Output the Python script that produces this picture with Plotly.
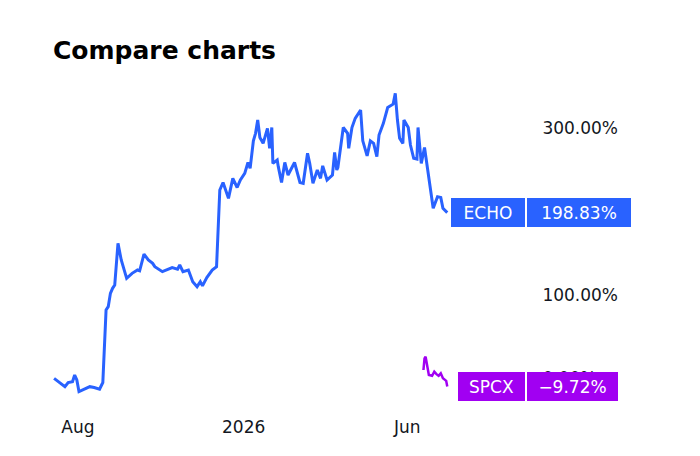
import plotly.graph_objects as go

# percent change vs. start of the period
echo_dates = [
	"2025-07-10", "2025-07-15", "2025-07-20", "2025-07-23", "2025-07-27", "2025-07-29", "2025-07-31", "2025-08-02",
	"2025-08-05", "2025-08-12", "2025-08-16", "2025-08-21", "2025-08-24", "2025-08-27", "2025-08-29", "2025-08-31",
	"2025-09-02", "2025-09-04", "2025-09-07", "2025-09-10", "2025-09-15", "2025-09-20", "2025-09-25", "2025-09-27",
	"2025-10-01", "2025-10-05", "2025-10-09", "2025-10-11", "2025-10-18", "2025-10-22", "2025-10-27", "2025-11-01",
	"2025-11-03", "2025-11-06", "2025-11-11", "2025-11-15", "2025-11-19", "2025-11-22", "2025-11-24", "2025-11-28",
	"2025-12-03", "2025-12-07", "2025-12-10", "2025-12-13", "2025-12-18", "2025-12-22", "2025-12-26", "2025-12-29",
	"2026-01-02", "2026-01-05", "2026-01-07", "2026-01-10", "2026-01-12", "2026-01-14", "2026-01-16", "2026-01-19",
	"2026-01-23", "2026-01-25", "2026-01-27", "2026-01-28", "2026-02-01", "2026-02-02", "2026-02-05", "2026-02-08",
	"2026-02-11", "2026-02-17", "2026-02-22", "2026-02-25", "2026-03-01", "2026-03-03", "2026-03-06", "2026-03-10",
	"2026-03-13", "2026-03-15", "2026-03-19", "2026-03-24", "2026-03-26", "2026-03-28", "2026-03-29", "2026-04-03",
	"2026-04-07", "2026-04-08", "2026-04-11", "2026-04-14", "2026-04-19", "2026-04-21", "2026-04-25", "2026-04-28",
	"2026-05-01", "2026-05-04", "2026-05-06", "2026-05-10", "2026-05-14", "2026-05-19", "2026-05-21", "2026-05-23",
	"2026-05-25", "2026-05-28", "2026-05-29", "2026-06-02", "2026-06-04", "2026-06-07", "2026-06-10", "2026-06-11",
	"2026-06-14", "2026-06-17", "2026-06-20", "2026-06-22", "2026-06-25", "2026-06-29", "2026-07-02", "2026-07-04",
	"2026-07-08",
]
echo_pct = [
	0, -5, -10, -5, -4, 4, -2, -16, -14, -10,
	-11, -13, -5, 82, 86, 102, 108, 112, 162, 142,
	120, 126, 130, 129, 149, 142, 138, 134, 128, 130,
	133, 131, 136, 128, 130, 116, 110, 116, 111, 121,
	130, 134, 226, 235, 216, 240, 229, 238, 246, 259,
	252, 285, 294, 310, 289, 282, 300, 276, 301, 258,
	262, 254, 235, 259, 244, 259, 235, 234, 270, 258,
	234, 250, 240, 255, 238, 244, 271, 250, 253, 301,
	294, 276, 301, 312, 322, 285, 267, 285, 282, 266,
	292, 306, 325, 329, 342, 310, 288, 282, 310, 301,
	280, 264, 263, 301, 258, 277, 250, 229, 204, 218,
	217, 204, 198.83,
]

spcx_dates = [
	"2026-06-16", "2026-06-17", "2026-06-18", "2026-06-19", "2026-06-21", "2026-06-24", "2026-06-26",
	"2026-06-28", "2026-06-30", "2026-07-02", "2026-07-04", "2026-07-07", "2026-07-08",
]
spcx_pct = [10, 24, 26, 18, 4, 3, 8, 5, 3, 6, 0, -3, -9.72]

tick_dates = ["2025-08-01", "2026-01-01", "2026-06-01"]
tick_text = ["Aug", "2026", "Jun"]
y_ticks = [0, 100, 200, 300]

BLUE = "#2962FF"
PURPLE = "#A100F2"
FONT = "DejaVu Sans"

fig = go.Figure()
fig.add_trace(go.Scatter(x=echo_dates, y=echo_pct, mode="lines",
                         line=dict(color=BLUE, width=3), name="ECHO"))
fig.add_trace(go.Scatter(x=spcx_dates, y=spcx_pct, mode="lines",
                         line=dict(color=PURPLE, width=2.5), name="SPCX"))

# last-value badges on the price scale
def badge(name, date, val, color, w_name, w_val):
	common = dict(xref="x", yref="y", x=date, y=val, yanchor="middle", showarrow=False,
	              bgcolor=color, borderpad=0, borderwidth=0, height=29,
	              font=dict(family=FONT, size=17, color="white"))
	fig.add_annotation(text=name, xanchor="right", xshift=78, width=w_name, **common)
	txt = f"{val:.2f}%".replace("-", "\u2212")
	fig.add_annotation(text=txt, xanchor="left", xshift=80, width=w_val, **common)

badge("ECHO", echo_dates[-1], echo_pct[-1], BLUE, 74, 104)
badge("SPCX", spcx_dates[-1], spcx_pct[-1], PURPLE, 67, 91)

fig.update_layout(
	width=700, height=456,
	margin=dict(l=53, r=165, t=80, b=56),
	paper_bgcolor="white", plot_bgcolor="white",
	showlegend=False,
	font=dict(family=FONT, size=17, color="#131722"),
	title=dict(text="<b>Compare charts</b>", x=53/700, xref="container", xanchor="left",
	           y=1 - 50/456, yref="container", yanchor="middle",
	           font=dict(family=FONT, size=25, color="#000000")),
)
fig.update_xaxes(range=["2025-07-09", "2026-09-27"], tickvals=tick_dates, ticktext=tick_text,
                 showgrid=False, zeroline=False, showline=False,
                 ticks="outside", ticklen=12, tickcolor="rgba(0,0,0,0)")
fig.update_yaxes(side="right", range=[-26, 358], tickvals=y_ticks,
                 ticktext=[f"{v:.2f}%" for v in y_ticks],
                 showgrid=False, zeroline=False, showline=False,
                 ticks="outside", ticklen=3, tickcolor="rgba(0,0,0,0)")

# page has a default 8px body margin, drop it so the figure fills the window
fig.write_html("out.html", config={"displayModeBar": False},
               post_script="document.body.style.margin='0';")
